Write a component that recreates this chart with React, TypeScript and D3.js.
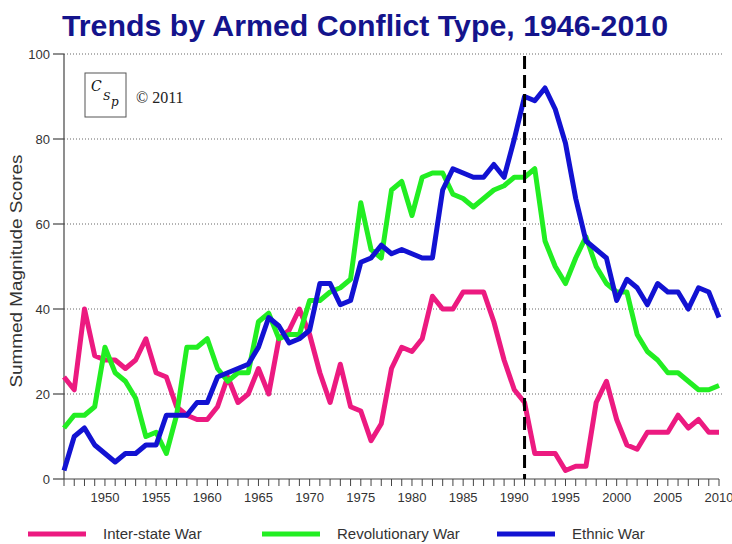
import React from "react";
import * as d3 from "d3";

const years: number[] = d3.range(1946, 2011);

const interState: number[] = [
  24, 21, 40, 29, 28, 28, 26, 28, 33, 25, 24, 17, 15, 14, 14, 17, 24, 18, 20, 26,
  20, 33, 35, 40, 34, 25, 18, 27, 17, 16, 9, 13, 26, 31, 30, 33, 43, 40, 40, 44,
  44, 44, 37, 28, 21, 18, 6, 6, 6, 2, 3, 3, 18, 23, 14, 8, 7, 11, 11, 11,
  15, 12, 14, 11, 11,
];

const revolutionary: number[] = [
  12, 15, 15, 17, 31, 25, 23, 19, 10, 11, 6, 15, 31, 31, 33, 26, 23, 25, 25, 37,
  39, 33, 34, 34, 42, 42, 44, 45, 47, 65, 54, 52, 68, 70, 62, 71, 72, 72, 67, 66,
  64, 66, 68, 69, 71, 71, 73, 56, 50, 46, 52, 57, 50, 46, 44, 44, 34, 30, 28, 25,
  25, 23, 21, 21, 22,
];

const ethnic: number[] = [
  2, 10, 12, 8, 6, 4, 6, 6, 8, 8, 15, 15, 15, 18, 18, 24, 25, 26, 27, 31,
  38, 36, 32, 33, 35, 46, 46, 41, 42, 51, 52, 55, 53, 54, 53, 52, 52, 68, 73, 72,
  71, 71, 74, 71, 80, 90, 89, 92, 87, 79, 66, 56, 54, 52, 42, 47, 45, 41, 46, 44,
  44, 40, 45, 44, 38,
];

const yTicks: number[] = [0, 20, 40, 60, 80, 100];
const xTickLabels: number[] = [1950, 1955, 1960, 1965, 1970, 1975, 1980, 1985, 1990, 1995, 2000, 2005, 2010];
const markerYear = 1991;

const seriesNames: string[] = ["Inter-state War", "Revolutionary War", "Ethnic War"];
const seriesColors: string[] = ["#ec1a80", "#22ee22", "#1212d2"];
const seriesData: number[][] = [interState, revolutionary, ethnic];

export default function App() {
  const x = d3.scaleLinear().domain([1946, 2010]).range([64, 719]);
  const y = d3.scaleLinear().domain([0, 100]).range([479, 54]);

  const line = d3
    .line<number>()
    .x((_, i) => x(years[i]))
    .y((d) => y(d));

  const legendX = [28, 262, 497];

  return (
    <svg
      width={732}
      height={544}
      style={{ position: "absolute", left: 0, top: 0, background: "#fff" }}
    >
      <rect x={0} y={0} width={732} height={544} fill="#fff" />
      <text
        x={365}
        y={36}
        textAnchor="middle"
        fontFamily="Liberation Sans, Arial, sans-serif"
        fontWeight="bold"
        fontSize={30}
        fill="#14148c"
        textLength={606}
        lengthAdjust="spacingAndGlyphs"
      >
        Trends by Armed Conflict Type, 1946-2010
      </text>

      {/* grid */}
      {yTicks
        .filter((t) => t > 0)
        .map((t) => (
          <line
            key={"g" + t}
            x1={64}
            x2={723}
            y1={y(t)}
            y2={y(t)}
            stroke="#666"
            strokeWidth={1}
            strokeDasharray="1,2"
          />
        ))}

      {/* y axis */}
      <line x1={64} x2={64} y1={y(100)} y2={y(0)} stroke="#444" strokeWidth={1.2} />
      {yTicks.map((t) => (
        <g key={"yt" + t}>
          <line x1={53} x2={64} y1={y(t)} y2={y(t)} stroke="#444" strokeWidth={1.2} />
          <text
            x={50}
            y={y(t) + 4.5}
            textAnchor="end"
            fontFamily="Liberation Sans, Arial, sans-serif"
            fontSize={13}
            fill="#333"
          >
            {t}
          </text>
        </g>
      ))}
      <text
        transform={`translate(22, 271) rotate(-90)`}
        textAnchor="middle"
        fontFamily="Liberation Sans, Arial, sans-serif"
        fontSize={16}
        fill="#333"
        textLength={233}
        lengthAdjust="spacingAndGlyphs"
      >
        Summed Magnitude Scores
      </text>

      {/* x axis */}
      <line x1={64} x2={719} y1={y(0)} y2={y(0)} stroke="#444" strokeWidth={1.2} />
      {years.map((yr) => (
        <line
          key={"xt" + yr}
          x1={x(yr)}
          x2={x(yr)}
          y1={y(0)}
          y2={y(0) + 7}
          stroke="#444"
          strokeWidth={1}
        />
      ))}
      {xTickLabels.map((yr) => (
        <text
          key={"xl" + yr}
          x={x(yr)}
          y={502}
          textAnchor="middle"
          fontFamily="Liberation Sans, Arial, sans-serif"
          fontSize={13}
          fill="#333"
        >
          {yr}
        </text>
      ))}

      {/* logo */}
      <rect x={85} y={73} width={41} height={44} fill="#fff" stroke="#555" strokeWidth={1} />
      <text x={91} y={91} fontFamily="DejaVu Serif, serif" fontStyle="italic" fontSize={14} fill="#111">
        C
      </text>
      <text x={103} y={100} fontFamily="DejaVu Serif, serif" fontStyle="italic" fontSize={11} fill="#111">
        S
      </text>
      <text x={111} y={106} fontFamily="DejaVu Serif, serif" fontStyle="italic" fontSize={12} fill="#111">
        p
      </text>
      <text x={136} y={103} fontFamily="Liberation Serif, Times New Roman, serif" fontSize={16} fill="#222">
        © 2011
      </text>

      {/* series */}
      {seriesData.map((s, i) => (
        <path
          key={"s" + i}
          d={line(s) || ""}
          fill="none"
          stroke={seriesColors[i]}
          strokeWidth={5}
          strokeLinejoin="round"
          strokeLinecap="butt"
        />
      ))}

      {/* marker */}
      <line
        x1={x(markerYear)}
        x2={x(markerYear)}
        y1={y(100) + 2}
        y2={y(0)}
        stroke="#000"
        strokeWidth={3}
        strokeDasharray="13,6"
      />

      {/* legend */}
      {seriesNames.map((n, i) => (
        <g key={"lg" + i}>
          <line
            x1={legendX[i]}
            x2={legendX[i] + 58}
            y1={534}
            y2={534}
            stroke={seriesColors[i]}
            strokeWidth={5}
          />
          <text
            x={legendX[i] + 75}
            y={539}
            fontFamily="Liberation Sans, Arial, sans-serif"
            fontSize={15}
            fill="#333"
          >
            {n}
          </text>
        </g>
      ))}
    </svg>
  );
}
